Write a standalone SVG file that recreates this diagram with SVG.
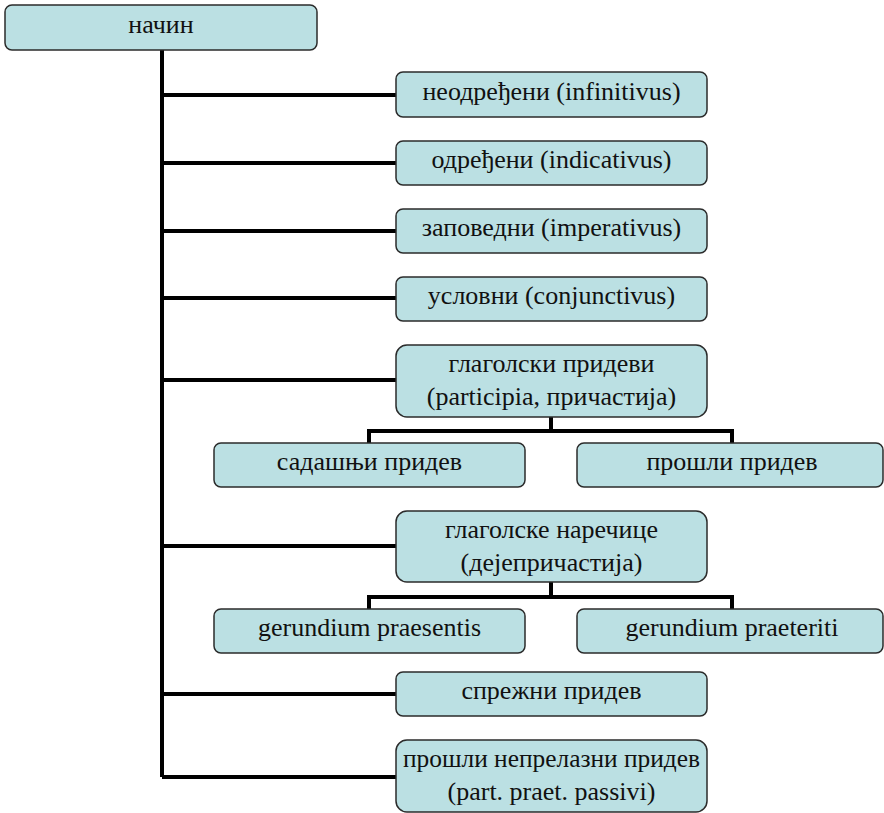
<svg xmlns="http://www.w3.org/2000/svg" width="884" height="813" viewBox="0 0 884 813">
  <style>
    .box { fill: #bbe0e3; stroke: #2b2b2b; stroke-width: 1.5; }
    .lbl { font-family: "Liberation Serif", "DejaVu Serif", serif; font-size: 26px; fill: #111; text-anchor: middle; }
    .wire { fill: none; stroke: #000; stroke-width: 4; stroke-linejoin: miter; }
  </style>
  <rect width="884" height="813" fill="#fff"/>

  <!-- connectors -->
  <g id="connectors">
    <path class="wire" d="M162 50 V777"/>
    <path class="wire" d="M162 95 H396"/>
    <path class="wire" d="M162 163 H396"/>
    <path class="wire" d="M162 231 H396"/>
    <path class="wire" d="M162 298 H396"/>
    <path class="wire" d="M162 380 H396"/>
    <path class="wire" d="M162 546 H396"/>
    <path class="wire" d="M162 694 H396"/>
    <path class="wire" d="M162 777 H396"/>
    <!-- participles branch -->
    <path class="wire" d="M551 417 V431 M369 443 V431 H732 V443"/>
    <!-- gerunds branch -->
    <path class="wire" d="M551 582 V597 M369 609 V597 H732 V609"/>
  </g>

  <g id="n-nacin">
    <rect class="box" x="5" y="5" width="312" height="45" rx="7"/>
    <text class="lbl" x="161" y="33">начин</text>
  </g>
  <g id="n-infinitivus">
    <rect class="box" x="396" y="72" width="311" height="45" rx="7"/>
    <text class="lbl" x="551.5" y="100">неодређени (infinitivus)</text>
  </g>
  <g id="n-indicativus">
    <rect class="box" x="396" y="141" width="311" height="44" rx="7"/>
    <text class="lbl" x="551.5" y="168">одређени (indicativus)</text>
  </g>
  <g id="n-imperativus">
    <rect class="box" x="396" y="209" width="311" height="44" rx="7"/>
    <text class="lbl" x="551.5" y="236">заповедни (imperativus)</text>
  </g>
  <g id="n-conjunctivus">
    <rect class="box" x="396" y="277" width="311" height="44" rx="7"/>
    <text class="lbl" x="551.5" y="304">условни (conjunctivus)</text>
  </g>
  <g id="n-participia">
    <rect class="box" x="396" y="345" width="311" height="72" rx="11"/>
    <text class="lbl" x="551.5" y="372">глаголски придеви</text>
    <text class="lbl" x="551.5" y="405">(participia, причастија)</text>
  </g>
  <g id="n-sadasnji">
    <rect class="box" x="214" y="443" width="311" height="44" rx="7"/>
    <text class="lbl" x="369.5" y="470">садашњи придев</text>
  </g>
  <g id="n-prosli">
    <rect class="box" x="577" y="443" width="306" height="44" rx="7"/>
    <text class="lbl" x="732" y="470">прошли придев</text>
  </g>
  <g id="n-gerundia">
    <rect class="box" x="396" y="511" width="311" height="71" rx="11"/>
    <text class="lbl" x="551.5" y="538">глаголске наречице</text>
    <text class="lbl" x="551.5" y="571">(дејепричастија)</text>
  </g>
  <g id="n-praesentis">
    <rect class="box" x="214" y="609" width="311" height="44" rx="7"/>
    <text class="lbl" x="369.5" y="636">gerundium praesentis</text>
  </g>
  <g id="n-praeteriti">
    <rect class="box" x="577" y="609" width="306" height="44" rx="7"/>
    <text class="lbl" x="732" y="636">gerundium praeteriti</text>
  </g>
  <g id="n-sprezni">
    <rect class="box" x="396" y="672" width="311" height="44" rx="7"/>
    <text class="lbl" x="551.5" y="699">спрежни придев</text>
  </g>
  <g id="n-neprelazni">
    <rect class="box" x="396" y="740" width="311" height="72" rx="11"/>
    <text class="lbl" x="551.5" y="767" textLength="297" lengthAdjust="spacingAndGlyphs">прошли непрелазни придев</text>
    <text class="lbl" x="551.5" y="800">(part. praet. passivi)</text>
  </g>
</svg>
